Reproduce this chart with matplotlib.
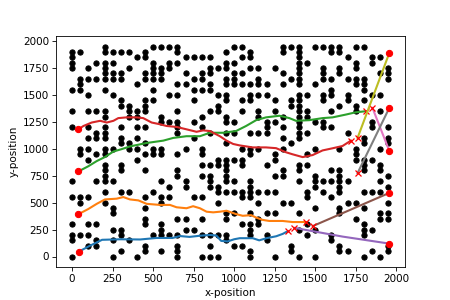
import matplotlib
matplotlib.use('Agg')
import matplotlib.pyplot as plt

grid_step = 50

# obstacle columns per grid row (row 0 at the bottom), one cell = 50 units
obstacle_rows = [
    [0, 5, 8, 13, 16, 17, 18, 22, 25, 28, 30, 36, 38],
    [6, 9, 11, 13, 22, 27, 33, 34, 37, 39],
    [2, 3, 9, 13, 17, 20, 21, 27, 33, 39],
    [0, 3, 5, 7, 19, 24, 32],
    [0, 1, 2, 6, 10, 11, 12, 13, 16, 17, 18, 19, 22, 24, 29, 32, 36],
    [5, 6, 11, 14, 15, 22, 28, 30, 36, 37],
    [0, 2, 3, 9, 11, 21, 22, 23, 29, 36],
    [9, 13, 14, 16, 19, 23, 35, 38, 39],
    [5, 19, 20, 22, 24, 25, 28, 33, 38, 39],
    [5, 9, 30, 33, 36],
    [1, 4, 11, 18, 23, 26, 27, 34, 35, 39],
    [0, 1, 2, 9, 11, 12, 15, 16, 21, 22, 29, 32],
    [4, 6, 7, 10, 18, 19, 20, 21, 22, 23, 24, 25, 29, 31, 33, 36, 37, 38],
    [12, 14, 17, 18, 22, 30, 33, 39],
    [0, 3, 4, 5, 11, 14, 17, 19, 20, 22, 28, 30, 31, 32, 33, 34, 38],
    [4, 13, 16, 17, 19, 25, 26, 30, 33, 39],
    [4, 6, 9, 13, 19, 26, 28, 32, 33, 36, 38],
    [4, 6, 16, 17, 18, 19, 21, 24, 28, 29, 36, 38],
    [2, 8, 18, 19, 20, 21, 25, 35, 36, 37],
    [1, 3, 4, 9, 10, 11, 13, 16, 22, 25, 29, 35],
    [1, 2, 4, 5, 7, 8, 10, 11, 14, 16, 21, 22, 23, 26, 30, 33, 35, 38],
    [6, 7, 9, 19, 27, 36, 39],
    [2, 3, 4, 6, 8, 15, 26, 28, 36, 39],
    [3, 4, 13, 17, 19, 20, 22, 23, 24, 28, 29, 34],
    [0, 2, 4, 6, 8, 9, 13, 16, 24, 26, 28, 31, 32, 37, 39],
    [11, 12, 13, 15, 19, 20, 24, 25, 28, 30, 31, 37],
    [4, 7, 8, 11, 16, 19, 23, 26, 28, 29],
    [0, 2, 3, 4, 7, 8, 9, 13, 17, 18, 21, 23, 25, 28, 29, 32, 35, 38],
    [6, 7, 9, 18, 27, 28, 33, 35],
    [6, 9, 10, 15, 19, 21, 22, 25, 27, 28, 31, 34, 36],
    [2, 5, 12, 13, 18, 19, 22, 23, 24, 28, 29, 31, 32, 34, 37, 38],
    [0, 1, 4, 10, 15, 16, 17, 32, 36],
    [1, 8, 13, 14, 17, 19, 20, 21, 22, 23, 24, 26, 28, 30, 35, 36],
    [1, 2, 3, 4, 5, 6, 9, 10, 11, 15, 16, 19, 20, 23, 27, 28, 31, 32, 34, 35, 36, 39],
    [4, 5, 6, 9, 10, 11, 14, 16, 17, 20, 21, 26, 28, 31, 33, 38, 39],
    [0, 2, 4, 7, 10, 11, 12, 17, 18, 19, 22, 23, 25, 28, 31, 33, 35, 39],
    [0, 3, 4, 5, 10, 12, 13, 19, 20, 28, 29, 35, 37],
    [0, 8, 9, 14, 15, 16, 17, 21, 22, 28, 34, 37, 38],
    [0, 1, 4, 5, 6, 7, 9, 13, 19, 22, 26, 28, 32, 33],
    [4, 10, 11, 12, 13, 20, 21, 26, 27, 28, 30, 31, 32, 33, 35, 36],
]

# start points (left) and goal points (right)
start_x = [40, 39, 39, 39]
start_y = [44, 393, 790, 1181]
goal_x = [1957, 1957, 1957, 1957, 1957]
goal_y = [120, 590, 984, 1377, 1886]

# paths grown from the starts
blue_x = [40, 110, 185, 300, 420, 520, 620, 665, 725, 790, 850, 890, 920, 960,
          1000, 1035, 1115, 1155, 1200, 1260, 1300, 1331]
blue_y = [44, 100, 155, 160, 158, 172, 172, 190, 182, 193, 200, 195, 145, 140,
          160, 170, 170, 150, 170, 188, 210, 235]
orange_x = [39, 100, 152, 203, 275, 316, 357, 409, 460, 542, 604, 645, 706, 747,
            789, 830, 871, 912, 953, 1012, 1053, 1105, 1135, 1176, 1217, 1300, 1361, 1444]
orange_y = [393, 441, 489, 530, 537, 552, 530, 521, 489, 479, 479, 457, 448, 467,
            448, 416, 410, 416, 425, 394, 378, 384, 362, 340, 330, 330, 320, 320]
green_x = [39, 100, 152, 203, 255, 306, 357, 460, 563, 624, 706, 789, 850, 932,
           1012, 1074, 1136, 1197, 1280, 1341, 1382, 1464, 1546, 1608, 1690, 1751, 1813]
green_y = [790, 838, 886, 924, 975, 997, 1022, 1054, 1076, 1101, 1117, 1117, 1149, 1149,
           1165, 1212, 1266, 1292, 1307, 1285, 1260, 1266, 1285, 1292, 1318, 1339, 1349]
red_x = [39, 70, 121, 173, 214, 255, 285, 337, 398, 439, 491, 542, 583, 645, 706,
         768, 809, 850, 912, 953, 994, 1033, 1114, 1197, 1259, 1320, 1361, 1423,
         1485, 1546, 1608, 1669, 1721]
red_y = [1181, 1212, 1244, 1260, 1244, 1260, 1285, 1292, 1292, 1285, 1244, 1228, 1212,
         1203, 1181, 1158, 1171, 1165, 1117, 1076, 1045, 1032, 1013, 1013, 1006, 968,
         949, 923, 942, 985, 1005, 1026, 1076]

# paths grown from the goals
purple_x = [1957, 1669, 1372]
purple_y = [120, 185, 266]
brown_x = [1957, 1485]
brown_y = [590, 282]
pink_x = [1957, 1854]
pink_y = [984, 1380]
gray_x = [1957, 1762]
gray_y = [1377, 774]
olive_x = [1957, 1762]
olive_y = [1886, 1101]

paths = [
    (blue_x, blue_y, 'C0'),
    (orange_x, orange_y, 'C1'),
    (green_x, green_y, 'C2'),
    (red_x, red_y, 'C3'),
    (purple_x, purple_y, 'C4'),
    (brown_x, brown_y, 'C5'),
    (pink_x, pink_y, 'C6'),
    (gray_x, gray_y, 'C7'),
    (olive_x, olive_y, 'C8'),
]

obs_x = []
obs_y = []
for row, cols in enumerate(obstacle_rows):
    for col in cols:
        obs_x.append(col * grid_step)
        obs_y.append(row * grid_step)

fig, ax = plt.subplots(figsize=(6, 4), dpi=75)
ax.plot(obs_x, obs_y, 'ko', markersize=5, linestyle='none')

for px, py, color in paths:
    ax.plot(px, py, color=color, linewidth=2)
    ax.plot(px[-1], py[-1], 'rx', markersize=6, markeredgewidth=1.2)

ax.plot(start_x, start_y, 'ro', markersize=6, linestyle='none')
ax.plot(goal_x, goal_y, 'ro', markersize=6, linestyle='none')

ax.set_xlabel('x-position')
ax.set_ylabel('y-position')

fig.savefig('out.png')
